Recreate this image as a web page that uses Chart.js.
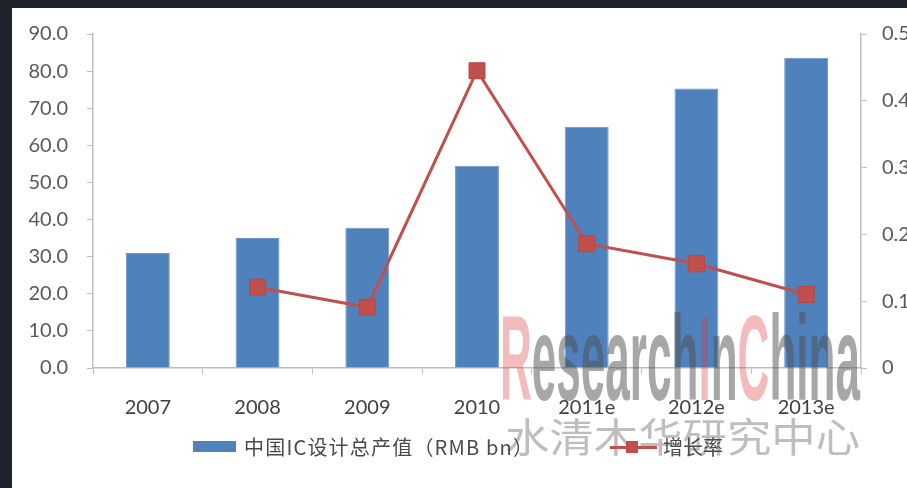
<!DOCTYPE html>
<html><head><meta charset="utf-8">
<script src="https://cdn.jsdelivr.net/npm/chart.js@4.4.0/dist/chart.umd.min.js"></script>
<style>
html,body{margin:0;padding:0;width:907px;height:488px;overflow:hidden;background:#1f232c;}
#paper{position:absolute;left:12px;top:8px;right:0;bottom:0;background:#fff;}
#wrap{position:absolute;left:12px;top:18px;width:920px;height:470px;}
#legend{position:absolute;left:0;top:0;width:907px;height:488px;pointer-events:none;font-family:"Noto Sans CJK SC";font-size:20px;color:#4a4a4a;}
.lg{position:absolute;white-space:nowrap;}
</style></head><body>
<div id="paper"></div>
<div id="wrap"><canvas id="c"></canvas></div>
<div id="legend">
 <div class="lg" id="lb" style="left:193px;top:441px;width:43px;height:11px;"></div>
 <div class="lg" id="t1" style="left:244px;top:433px;line-height:28px;letter-spacing:1.2px;"></div>
 <div class="lg" id="ll" style="left:610px;top:446px;width:47px;height:3px;"></div>
 <div class="lg" id="lm" style="left:626px;top:441px;width:12px;height:12px;"></div>
 <div class="lg" id="t2" style="left:663px;top:433px;line-height:28px;"></div>
</div>
<script>
const categories = ['2007', '2008', '2009', '2010', '2011e', '2012e', '2013e'];
const designValue = [31.0, 35.0, 37.8, 54.5, 65.0, 75.3, 83.6];
const growthRate = [null, 0.121, 0.091, 0.445, 0.186, 0.156, 0.110];
const leftTicks = [0, 10, 20, 30, 40, 50, 60, 70, 80, 90];
const rightTicks = [0, 0.1, 0.2, 0.3, 0.4, 0.5];
const barLabel = '中国IC设计总产值（RMB bn）';
const lineLabel = '增长率';

const BLUE = '#4f81bd', RED = '#c0504d', AXIS = '#bfbfbf';

document.getElementById('lb').style.background = BLUE;
document.getElementById('ll').style.background = RED;
document.getElementById('lm').style.background = RED;
document.getElementById('t1').textContent = barLabel;
document.getElementById('t2').textContent = lineLabel;

const watermark = {
  id: 'watermark',
  afterDraw(chart) {
    const ctx = chart.ctx;
    const pink = 'rgba(220,60,60,0.35)', gray = 'rgba(80,80,80,0.5)';
    const parts = [['R', pink], ['esearch', gray], ['I', pink], ['n', gray], ['C', pink], ['hina', gray]];
    ctx.save();
    ctx.font = 'bold 120px "Liberation Sans", "DejaVu Sans", sans-serif';
    ctx.textBaseline = 'alphabetic';
    ctx.textAlign = 'left';
    let total = 0;
    parts.forEach(p => total += ctx.measureText(p[0]).width);
    const sx = 360 / total;
    ctx.translate(488, 382);
    ctx.scale(sx, 1);
    let x = 0;
    parts.forEach(([t, c]) => { ctx.fillStyle = c; ctx.fillText(t, x, 0); x += ctx.measureText(t).width; });
    ctx.restore();

    ctx.save();
    ctx.font = '40px "Noto Sans CJK SC"';
    ctx.textBaseline = 'middle';
    ctx.textAlign = 'left';
    const cn = '水清木华研究中心';
    const w = ctx.measureText(cn).width;
    ctx.translate(493, 419);
    ctx.scale(355 / w, 1);
    ctx.fillStyle = 'rgba(110,110,110,0.45)';
    ctx.fillText(cn, 0, 0);
    ctx.restore();
  }
};

function fixY(width) {
  return s => { s.width = width; s.paddingTop = 8; s.paddingBottom = 8; };
}

new Chart(document.getElementById('c'), {
  data: {
    labels: categories,
    datasets: [
      {
        type: 'line', label: lineLabel, data: growthRate, yAxisID: 'y1', order: 0,
        borderColor: RED, borderWidth: 3, backgroundColor: RED,
        pointStyle: 'rect', pointRadius: 11.3, pointBackgroundColor: RED,
        pointBorderColor: '#b84744', pointBorderWidth: 1, tension: 0, spanGaps: false
      },
      {
        type: 'bar', label: barLabel, data: designValue, yAxisID: 'y', order: 1,
        backgroundColor: BLUE, borderColor: '#6d95c8', borderWidth: 1,
        barPercentage: 0.4, categoryPercentage: 1.0
      }
    ]
  },
  options: {
    responsive: true, maintainAspectRatio: false, animation: false,
    devicePixelRatio: 1,
    layout: { padding: { left: 15, right: 11, top: 16, bottom: 60 } },
    plugins: { legend: { display: false }, tooltip: { enabled: false } },
    scales: {
      x: {
        offset: true,
        grid: { drawOnChartArea: false, tickLength: 6, color: AXIS, offset: true },
        border: { color: AXIS, width: 1.5 },
        ticks: { color: '#404040', font: { family: 'Lato', size: 20 }, padding: 22, maxRotation: 0 },
        afterFit: s => { s.height = 60; }
      },
      y: {
        position: 'left', min: 0, max: 90,
        grid: { drawOnChartArea: false, tickLength: 6, color: AXIS },
        border: { color: AXIS, width: 1.5 },
        ticks: { color: '#595959', font: { family: 'Lato', size: 20 }, padding: 19, callback: v => Number(v).toFixed(1) },
        afterBuildTicks: s => { s.ticks = leftTicks.map(v => ({ value: v })); },
        afterFit: fixY(66)
      },
      y1: {
        position: 'right', min: 0, max: 0.5,
        grid: { drawOnChartArea: false, tickLength: 6, color: AXIS },
        border: { color: AXIS, width: 1.5 },
        ticks: { color: '#595959', font: { family: 'Lato', size: 20 }, padding: 15, callback: v => (v === 0 ? '0' : Number(v).toFixed(1)) },
        afterBuildTicks: s => { s.ticks = rightTicks.map(v => ({ value: v })); },
        afterFit: fixY(60)
      }
    }
  },
  plugins: [watermark]
});
</script>
</body></html>
